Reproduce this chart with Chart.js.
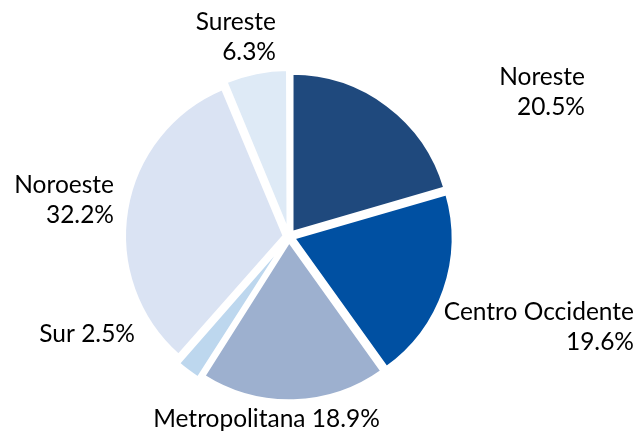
<!DOCTYPE html>
<html>
<head>
<meta charset="utf-8">
<script src="https://cdn.jsdelivr.net/npm/chart.js@4"></script>
<style>
    body { margin: 0; background: #ffffff; }
    canvas { display: block; }
</style>
</head>
<body>
<canvas id="regionChart" width="636" height="432"></canvas>
<script>
// Share by region (%), clockwise from 12 o'clock
const regions = ['Noreste', 'Centro Occidente', 'Metropolitana', 'Sur', 'Noroeste', 'Sureste'];
const shares = [20.5, 19.6, 18.9, 2.5, 32.2, 6.3];
const sliceColors = ['#1f497d', '#0050a2', '#9db0cf', '#bdd7ee', '#dae3f3', '#deeaf6'];

// Where each label sits, in px from the pie centre (right edge / baseline of first line)
const labelSpots = {
    'Noreste':          { dx: 296, dy: -151.5, align: 'right', split: true },
    'Centro Occidente': { dx: 345, dy: 83.5,   align: 'right', split: true },
    'Metropolitana':    { dx: -22.5, dy: 190.5, align: 'center', split: false },
    'Sur':              { dx: -154, dy: 105.5, align: 'right', split: false },
    'Noroeste':         { dx: -175, dy: -43.5, align: 'right', split: true },
    'Sureste':          { dx: -13, dy: -206.5, align: 'right', split: true }
};
const lineGap = 30;

const pieLabels = {
    id: 'pieLabels',
    afterDatasetsDraw(chart) {
        const ctx = chart.ctx;
        const arc = chart.getDatasetMeta(0).data[0];
        const cx = arc.x, cy = arc.y;
        ctx.save();
        ctx.font = '24.5px Lato';
        ctx.fillStyle = '#000000';
        ctx.textBaseline = 'alphabetic';
        regions.forEach((name, i) => {
            const spot = labelSpots[name];
            const pct = shares[i].toFixed(1) + '%';
            const lines = spot.split ? [name, pct] : [name + ' ' + pct];
            ctx.textAlign = spot.align;
            lines.forEach((line, k) => {
                ctx.fillText(line, cx + spot.dx, cy + spot.dy + k * lineGap);
            });
        });
        ctx.restore();
    }
};

const ctx = document.getElementById('regionChart').getContext('2d');
const chart = new Chart(ctx, {
    type: 'pie',
    data: {
        labels: regions,
        datasets: [{
            data: shares,
            backgroundColor: sliceColors,
            borderColor: '#ffffff',
            borderWidth: 3,
            offset: 20   // arc draws offset / 4 px outward
        }]
    },
    options: {
        responsive: false,
        animation: false,
        radius: 159,
        layout: {
            padding: { left: 0, right: 58, top: 41, bottom: 0 }
        },
        plugins: {
            legend: { display: false },
            tooltip: { enabled: false }
        }
    },
    plugins: [pieLabels]
});
</script>
</body>
</html>
